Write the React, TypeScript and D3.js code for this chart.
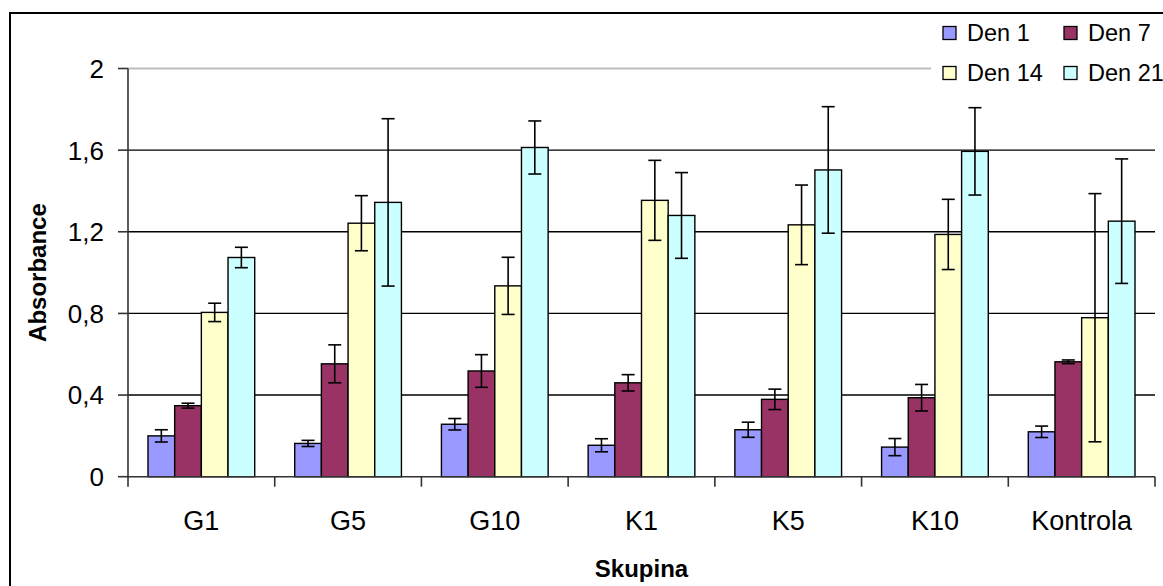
import React from "react";
import * as d3 from "d3";

const categories = ["G1", "G5", "G10", "K1", "K5", "K10", "Kontrola"];
const seriesNames = ["Den 1", "Den 7", "Den 14", "Den 21"];
const seriesColors = ["#9999FF", "#993366", "#FFFFCC", "#CCFFFF"];

const den1 = [0.2, 0.163, 0.257, 0.154, 0.23, 0.145, 0.22];
const den1Err = [0.03, 0.015, 0.028, 0.032, 0.037, 0.042, 0.028];
const den7 = [0.348, 0.553, 0.518, 0.46, 0.379, 0.387, 0.563];
const den7Err = [0.012, 0.093, 0.08, 0.04, 0.05, 0.065, 0.009];
const den14 = [0.805, 1.242, 0.935, 1.354, 1.234, 1.187, 0.779];
const den14Err = [0.045, 0.135, 0.14, 0.196, 0.195, 0.172, 0.608];
const den21 = [1.074, 1.344, 1.613, 1.28, 1.503, 1.594, 1.252];
const den21Err = [0.05, 0.41, 0.13, 0.21, 0.31, 0.214, 0.305];

const yTicks = [0, 0.4, 0.8, 1.2, 1.6, 2];
const yTickLabels = ["0", "0,4", "0,8", "1,2", "1,6", "2"];

const values = [den1, den7, den14, den21];
const errors = [den1Err, den7Err, den14Err, den21Err];

const W = 1163;
const H = 586;
const FONT = "'Liberation Sans', Arial, sans-serif";

export default function App() {
  const left = 128;
  const right = 1155;
  const top = 68.5;
  const bottom = 476.7;

  const x0 = d3.scaleBand<string>().domain(categories).range([left, right]).padding(0);
  const x1 = d3
    .scaleBand<string>()
    .domain(seriesNames)
    .range([20, x0.bandwidth() - 20])
    .padding(0);
  const y = d3.scaleLinear().domain([0, 2]).range([bottom, top]);

  const capHalf = 6.5;

  return (
    <svg
      width={W}
      height={H}
      style={{ position: "absolute", left: 0, top: 0, background: "#fff" }}
      fontFamily={FONT}
    >
      <rect x={0} y={0} width={W} height={H} fill="#fff" />
      {/* outer chart border */}
      <rect x={10} y={13} width={1300} height={700} fill="none" stroke="#000" strokeWidth={2} />

      {/* gridlines */}
      {yTicks.map((t) =>
        t === 0 ? null : t === 2 ? (
          <line key={t} x1={left} x2={right} y1={y(t)} y2={y(t)} stroke="#bdbdbd" strokeWidth={2} />
        ) : (
          <line key={t} x1={left} x2={right} y1={y(t)} y2={y(t)} stroke="#000" strokeWidth={1.4} />
        )
      )}

      {/* bars */}
      {categories.map((c, ci) => (
        <g key={c} transform={`translate(${x0(c)},0)`}>
          {seriesNames.map((s, si) => {
            const v = values[si][ci];
            return (
              <rect
                key={s}
                x={x1(s)}
                y={y(v)}
                width={x1.bandwidth()}
                height={y(0) - y(v)}
                fill={seriesColors[si]}
                stroke="#000"
                strokeWidth={1.4}
              />
            );
          })}
        </g>
      ))}

      {/* error bars */}
      {categories.map((c, ci) => (
        <g key={c} transform={`translate(${x0(c)},0)`}>
          {seriesNames.map((s, si) => {
            const v = values[si][ci];
            const e = errors[si][ci];
            const cx = (x1(s) as number) + x1.bandwidth() / 2;
            return (
              <g key={s} stroke="#000" strokeWidth={1.6}>
                <line x1={cx} x2={cx} y1={y(v + e)} y2={y(v - e)} />
                <line x1={cx - capHalf} x2={cx + capHalf} y1={y(v + e)} y2={y(v + e)} />
                <line x1={cx - capHalf} x2={cx + capHalf} y1={y(v - e)} y2={y(v - e)} />
              </g>
            );
          })}
        </g>
      ))}

      {/* y axis */}
      <line x1={left} x2={left} y1={top} y2={bottom + 1} stroke="#333" strokeWidth={1.6} />
      {yTicks.map((t, i) => (
        <g key={t}>
          <line x1={left - 10} x2={left} y1={y(t)} y2={y(t)} stroke="#333" strokeWidth={1.6} />
          <text
            x={104}
            y={y(t)}
            dy="0.36em"
            textAnchor="end"
            fontSize={26}
            fill="#000"
          >
            {yTickLabels[i]}
          </text>
        </g>
      ))}

      {/* x axis */}
      <line x1={left} x2={right} y1={bottom} y2={bottom} stroke="#333" strokeWidth={1.6} />
      {[...categories.map((c) => x0(c) as number), right].map((xv, i) => (
        <line key={i} x1={xv} x2={xv} y1={bottom} y2={bottom + 10} stroke="#333" strokeWidth={1.6} />
      ))}
      {categories.map((c) => (
        <text
          key={c}
          x={(x0(c) as number) + x0.bandwidth() / 2}
          y={530}
          textAnchor="middle"
          fontSize={27}
          fill="#000"
        >
          {c}
        </text>
      ))}

      {/* axis titles */}
      <text x={(left + right) / 2} y={577} textAnchor="middle" fontSize={24} fontWeight="bold">
        Skupina
      </text>
      <text
        transform={`translate(46,${(top + bottom) / 2}) rotate(-90)`}
        textAnchor="middle"
        fontSize={24}
        fontWeight="bold"
      >
        Absorbance
      </text>

      {/* legend */}
      <rect x={931} y={15} width={240} height={78} fill="#fff" />
      {seriesNames.map((s, i) => {
        const col = i % 2;
        const row = Math.floor(i / 2);
        const lx = 943 + col * 121;
        const ly = 33 + row * 40;
        return (
          <g key={s}>
            <rect
              x={lx}
              y={ly - 6.5}
              width={13}
              height={13}
              fill={seriesColors[i]}
              stroke="#000"
              strokeWidth={1.3}
            />
            <text x={lx + 24} y={ly} dy="0.36em" fontSize={23.5} fill="#000">
              {s}
            </text>
          </g>
        );
      })}
    </svg>
  );
}
